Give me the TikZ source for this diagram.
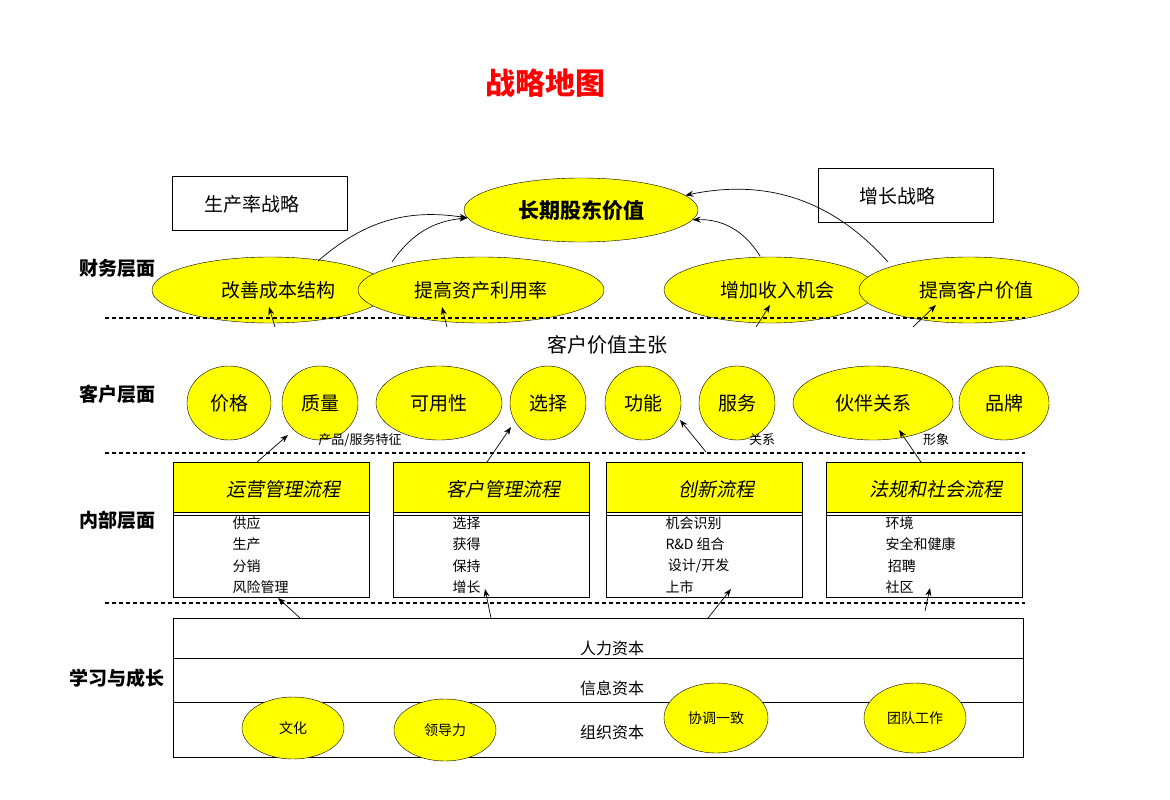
\documentclass[tikz,border=0pt]{standalone}
\usepackage{fontspec}
\setmainfont{Noto Sans CJK SC}
\newfontfamily\slcjk[FakeSlant=0.2]{Noto Sans CJK SC}
\usetikzlibrary{shapes.geometric,arrows.meta}
\definecolor{ylw}{RGB}{255,255,0}
\tikzset{
  goal/.style={ellipse,draw,fill=ylw,inner sep=0pt,font=\fontsize{19}{19}\selectfont},
  layer/.style={font=\fontsize{19}{19}\selectfont\bfseries,anchor=center},
  note/.style={font=\fontsize{13}{13}\selectfont},
  item/.style={font=\fontsize{14}{14}\selectfont,anchor=west},
  sep/.style={dash pattern=on 4pt off 3pt,line width=1.3pt},
  up/.style={-{Stealth[length=8pt,width=6pt]},line width=0.7pt},
}
\begin{document}
\begin{tikzpicture}[x=1pt,y=-1pt]
	\useasboundingbox[fill=white] (0,0) rectangle (1170,800);
	\node[text=red,font=\fontsize{30}{30}\selectfont\bfseries] (title) at (545,83) {战略地图};
	% strategy boxes
	\draw (172,176) rectangle (347,230);
	\node[font=\fontsize{19}{19}\selectfont] (prod) at (252,204) {生产率战略};
	\draw (818,168) rectangle (993,222);
	\node[font=\fontsize{19}{19}\selectfont] (grow) at (897,196) {增长战略};
	% financial
	\node[goal,minimum width=234,minimum height=64,font=\fontsize{21}{21}\selectfont\bfseries] (ltv) at (581,210) {长期股东价值};
	\node[goal,minimum width=236,minimum height=66] (cost) at (270,290) {\hspace{16pt}改善成本结构};
	\node[goal,minimum width=246,minimum height=66] (asset) at (481,290) {提高资产利用率};
	\node[goal,minimum width=212,minimum height=66] (rev) at (770,290) {\hspace{14pt}增加收入机会};
	\node[goal,minimum width=220,minimum height=66] (cval) at (969,290) {\hspace{14pt}提高客户价值};
	\draw[up] (318,261) to[bend left=25] (ltv.184);
	\draw[up] (392,262) to[bend left=25] (ltv.184);
	\draw[up] (760,256) to[bend right=30] (ltv.-5);
	\draw[up] (888,262) to[bend right=30] (ltv.8);
	% layer names
	\node[layer] (fin) at (117,268) {财务层面};
	\node[layer] (cus) at (117,394) {客户层面};
	\node[layer] (int) at (117,520) {内部层面};
	\node[layer] (lrn) at (117,678) {学习与成长};
	\draw[sep] (105,318) -- (1025,318);
	\draw[sep] (105,453) -- (1025,453);
	\draw[sep] (105,603) -- (1025,603);
	\node[font=\fontsize{20}{20}\selectfont] (cvp) at (607,345) {客户价值主张};
	% customer
	\node[goal,minimum width=84,minimum height=74] (price) at (229,403) {价格};
	\node[goal,minimum width=76,minimum height=74] (qual) at (320,403) {质量};
	\node[goal,minimum width=126,minimum height=74] (avail) at (439,403) {可用性};
	\node[goal,minimum width=76,minimum height=74] (choice) at (548,403) {选择};
	\node[goal,minimum width=76,minimum height=74] (func) at (643,403) {功能};
	\node[goal,minimum width=76,minimum height=74] (serv) at (737,403) {服务};
	\node[goal,minimum width=160,minimum height=74] (part) at (873,403) {伙伴关系};
	\node[goal,minimum width=90,minimum height=74] (brand) at (1004,403) {品牌};
	\node[note] (feat) at (360,440) {产品/服务特征};
	\node[note] (rel) at (762,440) {关系};
	\node[note] (img) at (936,440) {形象};
	\draw[up] (275,327) -- (269,307);
	\draw[up] (447,327) -- (442,307);
	\draw[up] (756,327) -- (770,305);
	\draw[up] (913,327) -- (936,305);
	% internal processes
	\foreach \x/\name/\t/\a/\b/\c/\d in {
	  173/ops/运营管理流程/供应/生产/分销/风险管理,
	  393/crm/客户管理流程/选择/获得/保持/增长,
	  606/inn/创新流程/机会识别/R\&D 组合/{\,设计/开发}/上市,
	  826/reg/法规和社会流程/环境/安全和健康/\,招聘/社区}{
	  \fill[ylw] (\x,462) rectangle ++(196,50);
	  \draw (\x,462) rectangle ++(196,135);
	  \draw (\x,512) -- ++(196,0);
	  \draw (\x,515) -- ++(196,0);
	  \node[font=\fontsize{19}{19}\slcjk] (\name) at (\x+110,489) {\t};
	  \node[item] (\name1) at (\x+56,523) {\a};
	  \node[item] (\name2) at (\x+56,544) {\b};
	  \node[item] (\name3) at (\x+56,566) {\c};
	  \node[item] (\name4) at (\x+56,587) {\d};
	}
	\draw[up] (257,462) -- (288,435);
	\draw[up] (487,462) -- (511,427);
	\draw[up] (706,452) -- (680,420);
	\draw[up] (921,462) -- (899,430);
	% learning and growth
	\draw (173,618) rectangle (1023,757);
	\draw (173,658) -- (1023,658);
	\draw (173,702) -- (1023,702);
	\node[font=\fontsize{16}{16}\selectfont] (hum) at (612,648) {人力资本};
	\node[font=\fontsize{16}{16}\selectfont] (info) at (612,688) {信息资本};
	\node[font=\fontsize{16}{16}\selectfont] (org) at (612,732) {组织资本};
	\node[goal,minimum width=102,minimum height=62,font=\fontsize{14}{14}\selectfont] (cult) at (293,728) {文化};
	\node[goal,minimum width=102,minimum height=62,font=\fontsize{14}{14}\selectfont] (lead) at (445,730) {领导力};
	\node[goal,minimum width=104,minimum height=70,font=\fontsize{14}{14}\selectfont] (align) at (716,718) {协调一致};
	\node[goal,minimum width=102,minimum height=70,font=\fontsize{14}{14}\selectfont] (team) at (915,718) {团队工作};
	\draw[up] (300,618) -- (278,598);
	\draw[up] (491,618) -- (485,589);
	\draw[up] (708,618) -- (731,589);
	\draw[up] (925,611) -- (930,588);
\end{tikzpicture}
\end{document}
